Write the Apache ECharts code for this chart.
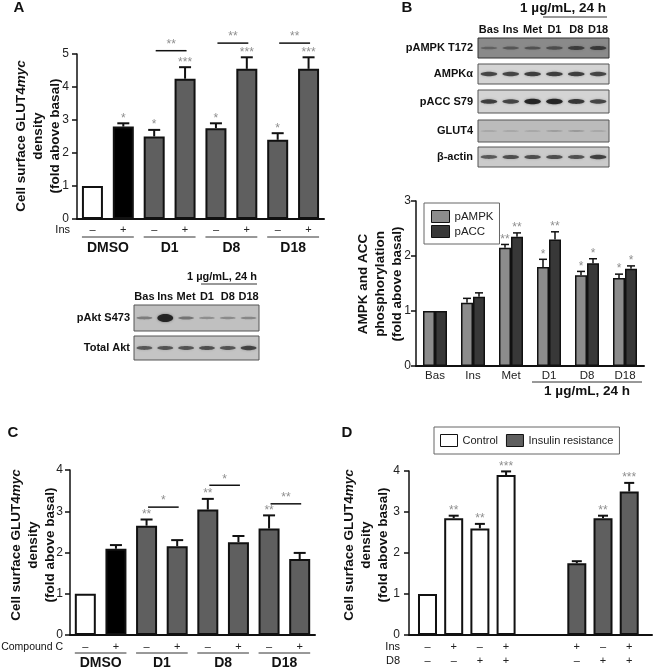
<!DOCTYPE html>
<html><head><meta charset="utf-8">
<script src="https://cdn.jsdelivr.net/npm/echarts@6/dist/echarts.min.js"></script>
<style>html,body{margin:0;padding:0;background:#fff}#c{width:667px;height:668px}</style>
</head><body><div id="c"></div>
<script>
const FONT = '"Liberation Sans", Arial, Helvetica, sans-serif';

// ---------- Panel A ----------
const aSigns = ['–','+','–','+','–','+','–','+'];
const aGroups = ['DMSO','D1','D8','D18'];
const aValues = [1, 2.8, 2.5, 4.25, 2.75, 4.55, 2.4, 4.55];
const aErrTop = [1, 2.9, 2.7, 4.6, 2.9, 4.9, 2.6, 4.9];
const aStars  = ['', '*', '*', '***', '*', '***', '*', '***'];
const aBrackets = [[2, 3, 5.1, '**'], [4, 5, 5.33, '**'], [6, 7, 5.33, '**']];

// ---------- Panel B ----------
const bCats = ['Bas','Ins','Met','D1','D8','D18'];
const bAmpk    = [1, 1.15, 2.15, 1.8, 1.65, 1.6];
const bAmpkErr = [1, 1.23, 2.21, 1.94, 1.72, 1.67];
const bAmpkStars = ['', '', '**', '*', '*', '*'];
const bAcc     = [1, 1.26, 2.35, 2.3, 1.87, 1.77];
const bAccErr  = [1, 1.33, 2.42, 2.44, 1.95, 1.82];
const bAccStars = ['', '', '**', '**', '*', '*'];
const bDoseLabel = '1 µg/mL, 24 h';

// ---------- Panel C ----------
const cSigns = ['–','+','–','+','–','+','–','+'];
const cGroups = ['DMSO','D1','D8','D18'];
const cValues = [1, 2.09, 2.65, 2.15, 3.04, 2.25, 2.58, 1.84];
const cErrTop = [1, 2.18, 2.8, 2.3, 3.3, 2.4, 2.9, 1.99];
const cStars  = ['', '', '**', '', '**', '', '**', ''];
const cBrackets = [[2, 3, 3.1, '*'], [4, 5, 3.63, '*'], [6, 7, 3.18, '**']];

// ---------- Panel D ----------
const dCtrlSlot = [0, 1, 2, 3];
const dCtrl     = [1, 2.85, 2.6, 3.9];
const dCtrlErr  = [1, 2.91, 2.71, 3.99];
const dCtrlStars = ['', '**', '**', '***'];
const dCtrlIns = ['–','+','–','+'];
const dCtrlD8  = ['–','–','+','+'];
const dIrSlot = [5.7, 6.7, 7.7];
const dIr     = [1.75, 2.85, 3.5];
const dIrErr  = [1.8, 2.91, 3.71];
const dIrStars = ['', '**', '***'];
const dIrIns = ['+','–','+'];
const dIrD8  = ['–','+','+'];

// ---------- Western blots (band intensity 0..1) ----------
const blotLanes = ['Bas','Ins','Met','D1','D8','D18'];
const blotBNames = ['pAMPK T172','AMPKα','pACC S79','GLUT4','β-actin'];
const blotBBands = [
  [0.3, 0.4, 0.45, 0.5, 0.65, 0.7],
  [0.75, 0.75, 0.8, 0.8, 0.8, 0.75],
  [0.8, 0.75, 1, 1, 0.85, 0.75],
  [0.08, 0.08, 0.08, 0.1, 0.12, 0.08],
  [0.6, 0.68, 0.68, 0.68, 0.65, 0.78]
];
const blotANames = ['pAkt S473','Total Akt'];
const blotABands = [
  [0.35, 1, 0.4, 0.22, 0.25, 0.28],
  [0.6, 0.62, 0.62, 0.65, 0.62, 0.75]
];

// ================= rendering =================
const GRAY = '#5f5f5f', STAR = '#8e8e8e', INK = '#111';

function errSeries(xi, yi, xs, tops, errs, stars, o) {
  return {
    type: 'custom', xAxisIndex: xi, yAxisIndex: yi, z: 5, silent: true,
    data: xs.map((x, i) => [x, tops[i], errs[i]]),
    encode: { x: 0, y: [1, 2] },
    renderItem(params, api) {
      const i = params.dataIndex;
      const pT = api.coord([api.value(0), api.value(1)]);
      const pE = api.coord([api.value(0), api.value(2)]);
      const cx = pT[0] + (o.offset || 0);
      const ch = [];
      if (api.value(2) > api.value(1)) {
        ch.push({ type: 'line', shape: { x1: cx, y1: pT[1], x2: cx, y2: pE[1] }, style: { stroke: INK, lineWidth: o.lw } });
        ch.push({ type: 'line', shape: { x1: cx - o.cap, y1: pE[1], x2: cx + o.cap, y2: pE[1] }, style: { stroke: INK, lineWidth: o.lw } });
      }
      if (stars[i]) ch.push({ type: 'text', x: cx, y: pE[1] - o.gap,
        style: { text: stars[i], fill: STAR, font: '12px ' + FONT, align: 'center', verticalAlign: 'middle' } });
      return { type: 'group', children: ch };
    }
  };
}

function bracketSeries(xi, yi, br) {
  return {
    type: 'custom', xAxisIndex: xi, yAxisIndex: yi, z: 5, silent: true,
    data: br.map(b => [b[0], b[1], b[2]]),
    encode: { x: [0, 1], y: 2 },
    renderItem(params, api) {
      const b = br[params.dataIndex];
      const p1 = api.coord([b[0], b[2]]), p2 = api.coord([b[1], b[2]]);
      const x1 = p1[0] + 1.5, x2 = p2[0] + 1.5;
      return { type: 'group', children: [
        { type: 'line', shape: { x1, y1: p1[1], x2, y2: p1[1] }, style: { stroke: INK, lineWidth: 1.5 } },
        { type: 'text', x: (x1 + x2) / 2, y: p1[1] - 6,
          style: { text: b[3], fill: STAR, font: '12px ' + FONT, align: 'center', verticalAlign: 'middle' } }
      ] };
    }
  };
}

function groupSeries(xi, yi, groups, o) {
  return {
    type: 'custom', xAxisIndex: xi, yAxisIndex: yi, z: 5, silent: true,
    data: groups.map(g => [g[0], g[1], 0]),
    encode: { x: [0, 1], y: 2 },
    renderItem(params, api) {
      const g = groups[params.dataIndex];
      const p1 = api.coord([g[0], 0]), p2 = api.coord([g[1], 0]);
      const x1 = p1[0] - o.ext, x2 = p2[0] + o.ext, y = p1[1] + o.lineDy;
      return { type: 'group', children: [
        { type: 'line', shape: { x1, y1: y, x2, y2: y }, style: { stroke: '#333', lineWidth: 1 } },
        { type: 'text', x: (x1 + x2) / 2, y: p1[1] + o.textDy,
          style: { text: g[2], fill: INK, font: o.font, align: 'center', verticalAlign: 'middle' } }
      ] };
    }
  };
}

function signSeries(xi, yi, xs, row1, row2) {
  return {
    type: 'custom', xAxisIndex: xi, yAxisIndex: yi, z: 5, silent: true,
    data: xs.map(x => [x, 0]),
    encode: { x: 0, y: 1 },
    renderItem(params, api) {
      const i = params.dataIndex;
      const p = api.coord([api.value(0), 0]);
      const st = t => ({ text: t, fill: '#222', font: '11px ' + FONT, align: 'center', verticalAlign: 'middle' });
      return { type: 'group', children: [
        { type: 'text', x: p[0], y: p[1] + 12, style: st(row1[i]) },
        { type: 'text', x: p[0], y: p[1] + 26, style: st(row2[i]) }
      ] };
    }
  };
}

function pairGroups(names) { return names.map((n, g) => [2 * g, 2 * g + 1, n]); }

function yAxisCfg(grid, max, margin) {
  return {
    type: 'value', gridIndex: grid, min: 0, max: max, interval: 1,
    axisLine: { show: true, onZero: false, lineStyle: { color: INK, width: 1.5 } },
    axisTick: { show: true, length: 5, lineStyle: { color: INK, width: 1.5 } },
    axisLabel: { fontSize: 12, color: '#222', margin: margin, fontFamily: FONT },
    splitLine: { show: false }
  };
}
function xCatCfg(grid, data, margin, fs) {
  return {
    type: 'category', gridIndex: grid, data: data,
    axisLine: { show: true, lineStyle: { color: INK, width: 2 } },
    axisTick: { show: false },
    axisLabel: { interval: 0, fontSize: fs, color: '#222', margin: margin, fontFamily: FONT },
    splitLine: { show: false }
  };
}

// ---- graphics (text + blots) ----
const G = [];
function txt(x, y, text, font, align, extra) {
  G.push(Object.assign({ type: 'text', x, y, silent: true,
    style: { text, font, fill: INK, align: align || 'center', verticalAlign: 'middle' } }, extra || {}));
}
function hline(x1, x2, y, w) {
  G.push({ type: 'line', silent: true, shape: { x1, y1: y, x2, y2: y }, style: { stroke: '#333', lineWidth: w || 1 } });
}
function blotRow(x, y, w, h, bg, border, bands, big) {
  G.push({ type: 'rect', silent: true, shape: { x, y, width: w, height: h },
    style: { fill: bg, stroke: border, lineWidth: 1 } });
  const lw = w / bands.length;
  bands.forEach((a, i) => {
    const cx = x + lw * (i + 0.5), cy = y + h / 2;
    const ry = big && a > 0.9 ? 4 : 0.7 + 2.0 * a;
    G.push({ type: 'ellipse', silent: true,
      shape: { cx, cy, rx: lw * 0.38, ry },
      style: { fill: 'rgba(25,25,25,' + (0.1 + 0.8 * a).toFixed(2) + ')', shadowBlur: 2.5, shadowColor: 'rgba(25,25,25,' + (0.5 * a).toFixed(2) + ')' } });
  });
}

const B_BOLD = 'bold 11px ' + FONT;
// panel letters
txt(19, 8, 'A', 'bold 15px ' + FONT);
txt(407, 8, 'B', 'bold 15px ' + FONT);
txt(13, 433, 'C', 'bold 15px ' + FONT);
txt(347, 433, 'D', 'bold 15px ' + FONT);

// B blots
const bBlotX = 478, bBlotW = 131;
const bRows = [[38, 20, '#8a8a8a', '#333'], [64, 20, '#d4d4d4', '#555'], [90, 23, '#d4d4d4', '#555'], [120, 22, '#bbbbbb', '#555'], [147, 20, '#cbcbcb', '#555']];
txt(563, 8, bDoseLabel, 'bold 13.5px ' + FONT);
hline(543, 607, 17, 1);
blotLanes.forEach((l, i) => txt(bBlotX + bBlotW / 12 * (2 * i + 1), 30, l, B_BOLD));
blotBNames.forEach((n, r) => {
  const [y, h, bg, bd] = bRows[r];
  blotRow(bBlotX, y, bBlotW, h, bg, bd, blotBBands[r], false);
  txt(473, y + h / 2, n, B_BOLD, 'right');
});

// A blots
const aBlotX = 134, aBlotW = 125;
const aRows = [[305, 26, '#c0c0c0', '#555'], [336, 24, '#c4c4c4', '#555']];
txt(222, 277, bDoseLabel, 'bold 11px ' + FONT);
hline(201, 257, 284, 1);
blotLanes.forEach((l, i) => txt(aBlotX + aBlotW / 12 * (2 * i + 1), 297, l, B_BOLD));
blotANames.forEach((n, r) => {
  const [y, h, bg, bd] = aRows[r];
  blotRow(aBlotX, y, aBlotW, h, bg, bd, blotABands[r], true);
  txt(130, y + h / 2, n, B_BOLD, 'right');
});

// row titles under axes
txt(70, 230, 'Ins', '11px ' + FONT, 'right');
txt(63, 647, 'Compound C', '10.5px ' + FONT, 'right');
txt(400, 647, 'Ins', '11px ' + FONT, 'right');
txt(400, 661, 'D8', '11px ' + FONT, 'right');

// y-axis titles (rotated)
function yTitle(x, y, lines) {
  const rich = {
    b: { font: 'bold 13.5px ' + FONT, fill: INK, lineHeight: 17 },
    bi: { font: 'italic bold 13.5px ' + FONT, fill: INK, lineHeight: 17 }
  };
  G.push({ type: 'text', x, y, rotation: Math.PI / 2, silent: true,
    style: { text: lines, rich, align: 'center', verticalAlign: 'middle', font: 'bold 13.5px ' + FONT, lineHeight: 17 } });
}
const glutTitle = '{b|Cell surface GLUT4}{bi|myc}\n{b|density}\n{b|(fold above basal)}';
yTitle(38, 136, glutTitle);
yTitle(33, 545, glutTitle);
yTitle(366, 545, glutTitle);
yTitle(380, 284, '{b|AMPK and ACC}\n{b|phosphorylation}\n{b|(fold above basal)}');

const option = {
  animation: false,
  backgroundColor: '#fff',
  textStyle: { fontFamily: FONT },
  grid: [
    { left: 77, top: 54, width: 247, height: 165 },
    { left: 416, top: 201, width: 228, height: 165 },
    { left: 70, top: 470, width: 245, height: 165 },
    { left: 409, top: 471, width: 243, height: 164 }
  ],
  xAxis: [
    xCatCfg(0, aSigns, 5.5, 11),
    xCatCfg(1, bCats, 4, 11.5),
    xCatCfg(2, cSigns, 6.5, 11),
    { type: 'value', gridIndex: 3, min: -0.706, max: 8.57,
      axisLine: { show: true, onZero: false, lineStyle: { color: INK, width: 2 } },
      axisTick: { show: false }, axisLabel: { show: false }, splitLine: { show: false } }
  ],
  yAxis: [yAxisCfg(0, 5, 8), yAxisCfg(1, 3, 5), yAxisCfg(2, 4, 7), yAxisCfg(3, 4, 9)],
  legend: [
    { data: ['pAMPK', 'pACC'], orient: 'vertical', left: 424, top: 203, selectedMode: false,
      icon: 'rect', itemWidth: 18, itemHeight: 12, itemGap: 2, padding: [7, 6, 6, 7],
      backgroundColor: '#fff', borderColor: '#666', borderWidth: 1,
      itemStyle: { borderColor: INK, borderWidth: 1 },
      textStyle: { fontSize: 11.5, color: '#222', fontFamily: FONT } },
    { data: ['Control', 'Insulin resistance'], orient: 'horizontal', left: 434, top: 427, selectedMode: false,
      icon: 'rect', itemWidth: 17, itemHeight: 12, itemGap: 8, padding: [7, 6, 7, 6],
      backgroundColor: '#fff', borderColor: '#666', borderWidth: 1,
      itemStyle: { borderColor: INK, borderWidth: 1 },
      textStyle: { fontSize: 11, color: '#222', fontFamily: FONT } }
  ],
  graphic: { elements: G },
  series: [
    // A
    { type: 'bar', name: 'A', xAxisIndex: 0, yAxisIndex: 0, barWidth: 21,
      data: aValues.map((v, i) => ({ value: v, itemStyle: { color: i === 0 ? '#fff' : (i === 1 ? '#000' : GRAY) } })),
      itemStyle: { borderColor: INK, borderWidth: 2 } },
    errSeries(0, 0, aValues.map((v, i) => i), aValues, aErrTop, aStars, { lw: 2, cap: 6, gap: 5 }),
    bracketSeries(0, 0, aBrackets),
    groupSeries(0, 0, pairGroups(aGroups), { ext: 10.5, lineDy: 18, textDy: 29, font: 'bold 14px ' + FONT }),
    // B
    { type: 'bar', name: 'pAMPK', xAxisIndex: 1, yAxisIndex: 1, barWidth: 12, barGap: '0%', data: bAmpk,
      itemStyle: { color: '#8c8c8c', borderColor: INK, borderWidth: 1.5 } },
    { type: 'bar', name: 'pACC', xAxisIndex: 1, yAxisIndex: 1, barWidth: 12, barGap: '0%', data: bAcc,
      itemStyle: { color: '#383838', borderColor: INK, borderWidth: 1.5 } },
    errSeries(1, 1, bCats.map((c, i) => i), bAmpk, bAmpkErr, bAmpkStars, { lw: 1.5, cap: 4, gap: 5, offset: -6 }),
    errSeries(1, 1, bCats.map((c, i) => i), bAcc, bAccErr, bAccStars, { lw: 1.5, cap: 4, gap: 5, offset: 6 }),
    groupSeries(1, 1, [[3, 5, bDoseLabel]], { ext: 17, lineDy: 16, textDy: 25, font: 'bold 13.5px ' + FONT }),
    // C
    { type: 'bar', name: 'C', xAxisIndex: 2, yAxisIndex: 2, barWidth: 21,
      data: cValues.map((v, i) => ({ value: v, itemStyle: { color: i === 0 ? '#fff' : (i === 1 ? '#000' : GRAY) } })),
      itemStyle: { borderColor: INK, borderWidth: 2 } },
    errSeries(2, 2, cValues.map((v, i) => i), cValues, cErrTop, cStars, { lw: 2, cap: 6, gap: 5 }),
    bracketSeries(2, 2, cBrackets),
    groupSeries(2, 2, pairGroups(cGroups), { ext: 10.5, lineDy: 18, textDy: 28, font: 'bold 14px ' + FONT }),
    // D
    { type: 'bar', name: 'Control', xAxisIndex: 3, yAxisIndex: 3, barWidth: 19, barGap: '-100%',
      data: dCtrlSlot.map((s, i) => [s, dCtrl[i]]),
      itemStyle: { color: '#fff', borderColor: INK, borderWidth: 2 } },
    { type: 'bar', name: 'Insulin resistance', xAxisIndex: 3, yAxisIndex: 3, barWidth: 19, barGap: '-100%',
      data: dIrSlot.map((s, i) => [s, dIr[i]]),
      itemStyle: { color: GRAY, borderColor: INK, borderWidth: 2 } },
    errSeries(3, 3, dCtrlSlot, dCtrl, dCtrlErr, dCtrlStars, { lw: 2, cap: 5, gap: 5 }),
    errSeries(3, 3, dIrSlot, dIr, dIrErr, dIrStars, { lw: 2, cap: 5, gap: 5 }),
    signSeries(3, 3, dCtrlSlot.concat(dIrSlot), dCtrlIns.concat(dIrIns), dCtrlD8.concat(dIrD8))
  ]
};

const chart = echarts.init(document.getElementById('c'), null, { renderer: 'canvas' });
chart.setOption(option);
</script>
</body></html>
